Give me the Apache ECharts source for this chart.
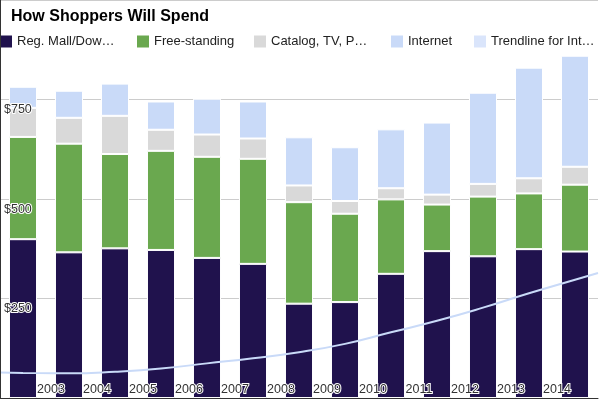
<!DOCTYPE html>
<html>
<head>
<meta charset="utf-8">
<script src="https://cdn.jsdelivr.net/npm/echarts@6/dist/echarts.min.js"></script>
<style>
  html, body { margin: 0; padding: 0; background: #fff; }
  #shopChart { width: 599px; height: 400px; }
</style>
</head>
<body>
<div id="shopChart"></div>
<script>
var years = ['2002', '2003', '2004', '2005', '2006', '2007', '2008', '2009', '2010', '2011', '2012', '2013', '2014'];
var mallValues = [399, 366, 376, 372, 352, 337, 237, 241, 312, 369, 356, 374, 368];
var freeValues = [257, 273, 237, 249, 254, 264, 255, 222, 187, 117, 150, 140, 168];
var catalogValues = [73, 65, 96, 53, 56, 51, 42, 32, 28, 25, 32, 38, 45];
var internetValues = [53, 68, 81, 71, 90, 93, 121, 135, 148, 181, 229, 278, 279];
// trendline, incl. both edges of the plot
var trendYears = [2001.5, 2002, 2003, 2004, 2005, 2006, 2007, 2008, 2009, 2010, 2011, 2012, 2013, 2014, 2014.5];
var trendValues = [64, 63, 62, 66, 74, 87, 100, 115, 136, 165, 194, 227, 263, 297, 314];
var yTicks = [0, 250, 500, 750, 1000];

var seriesNames = ['Reg. Mall/Downtown', 'Free-standing', 'Catalog, TV, Phone', 'Internet', 'Trendline for Internet'];
var colors = ['#20124d', '#6aa84f', '#d9d9d9', '#c9daf8', '#c9daf8'];

var font = "'Liberation Sans', Arial, sans-serif";

function legendFor(i, left, width) {
  return {
    left: left,
    top: 35,
    padding: 0,
    icon: 'rect',
    itemWidth: 12,
    itemHeight: 12,
    itemGap: 0,
    itemTextGap: 6,
    selectedMode: false,
    itemStyle: { borderWidth: 0 },
    textStyle: {
      fontFamily: font,
      fontSize: 13,
      color: '#222',
      width: width,
      overflow: 'truncate',
      ellipsis: '…'
    },
    data: [{
      name: seriesNames[i],
      itemStyle: { color: i === 4 ? '#dae5fb' : colors[i] }
    }]
  };
}

function barSeries(i, values) {
  return {
    name: seriesNames[i],
    type: 'bar',
    stack: 'spend',
    barCategoryGap: '39%',
    xAxisIndex: 0,
    yAxisIndex: 0,
    itemStyle: { color: colors[i], borderColor: '#fff', borderWidth: 1 },
    data: values
  };
}

var chart = echarts.init(document.getElementById('shopChart'));
var trendData = trendYears.map(function (y, i) { return [y, trendValues[i]]; });

var option = {
  animation: false,
  backgroundColor: '#fff',
  title: {
    text: 'How Shoppers Will Spend',
    left: 6,
    top: 4,
    textStyle: { fontFamily: font, fontSize: 16, fontWeight: 'bold', color: '#000' }
  },
  legend: [
    legendFor(0, 0, 100),
    legendFor(1, 137, 100),
    legendFor(2, 254, 100),
    legendFor(3, 391, 70),
    legendFor(4, 474, 109)
  ],
  grid: { left: 0, right: 1, top: 0, bottom: 2 },
  xAxis: [{
    type: 'category',
    data: years,
    z: 10,
    axisTick: { show: false },
    axisLine: { lineStyle: { color: '#333' } },
    axisLabel: {
      inside: true,
      margin: 2,
      fontFamily: font,
      fontSize: 12.5,
      color: '#333',
      textBorderColor: '#fff',
      textBorderWidth: 2,
      padding: [0, 36, 0, 0],
      formatter: function (v, idx) { return idx === 0 ? '' : v; }
    }
  }, {
    type: 'value',
    min: 2001.5,
    max: 2014.5,
    show: false
  }],
  yAxis: [{
    type: 'value',
    position: 'left',
    min: yTicks[0],
    max: yTicks[yTicks.length - 1],
    interval: 250,
    axisLine: { show: false },
    axisTick: { show: false },
    axisLabel: { show: false },
    splitLine: { lineStyle: { color: '#ccc' } }
  }, {
    type: 'value',
    position: 'left',
    min: yTicks[0],
    max: yTicks[yTicks.length - 1],
    interval: 250,
    z: 10,
    axisLine: { show: true, lineStyle: { color: '#333' } },
    axisTick: { show: false },
    splitLine: { show: false },
    axisLabel: {
      inside: true,
      margin: 4,
      showMinLabel: false,
      showMaxLabel: false,
      verticalAlign: 'top',
      padding: [4, 0, 0, 0],
      fontFamily: font,
      fontSize: 12.5,
      color: '#333',
      textBorderColor: '#fff',
      textBorderWidth: 2,
      formatter: function (v) { return '$' + v; }
    }
  }],
  series: [
    barSeries(0, mallValues),
    barSeries(1, freeValues),
    barSeries(2, catalogValues),
    barSeries(3, internetValues),
    {
      name: seriesNames[4],
      type: 'line',
      xAxisIndex: 1,
      yAxisIndex: 0,
      smooth: true,
      symbol: 'none',
      lineStyle: { color: '#c9daf8', width: 2 },
      itemStyle: { color: '#dae5fb' },
      data: trendData
    }
  ]
};

chart.setOption(option);
</script>
</body>
</html>
